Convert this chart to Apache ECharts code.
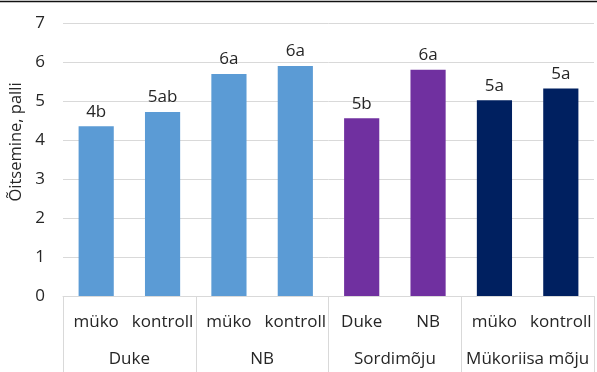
<!DOCTYPE html>
<html>
<head>
<meta charset="utf-8">
<script src="https://cdn.jsdelivr.net/npm/echarts@6/dist/echarts.min.js"></script>
<style>
  html, body { margin: 0; padding: 0; background: #ffffff; }
  #chart { width: 597px; height: 372px; }
</style>
</head>
<body>
<div id="chart"></div>
<script>
// Flowering scores by treatment
const subCategories = ['müko', 'kontroll', 'müko', 'kontroll', 'Duke', 'NB', 'müko', 'kontroll'];
const groupCategories = ['Duke', 'NB', 'Sordimõju', 'Mükoriisa mõju'];
const values = [4.35, 4.72, 5.69, 5.90, 4.56, 5.80, 5.02, 5.32];
const valueLabels = ['4b', '5ab', '6a', '6a', '5b', '6a', '5a', '5a'];
const groupOfBar = [0, 0, 0, 0, 1, 1, 2, 2];
const yTicks = [0, 1, 2, 3, 4, 5, 6, 7];

const palette = ['#5b9bd5', '#7030a0', '#002060'];
const FONT = 'Open Sans';
const TEXT = '#262626';
const GRID = '#d9d9d9';
const FS = 17;

const chart = echarts.init(document.getElementById('chart'), null, { renderer: 'canvas' });

chart.setOption({
  animation: false,
  backgroundColor: '#ffffff',
  textStyle: { fontFamily: FONT },
  grid: { left: 63, right: 3, top: 23, bottom: 76, containLabel: false },
  graphic: [
    {
      type: 'line',
      shape: { x1: 0, y1: 1.5, x2: 597, y2: 1.5 },
      style: { stroke: '#111111', lineWidth: 1.5 }
    },
    {
      type: 'text',
      x: 16, y: 142,
      rotation: Math.PI / 2,
      style: {
        text: 'Õitsemine, palli',
        fontFamily: FONT, fontSize: 16.5, fill: TEXT,
        align: 'center', verticalAlign: 'middle'
      }
    }
  ],
  xAxis: [
    {
      type: 'category',
      position: 'bottom',
      data: subCategories,
      axisLine: { show: true, lineStyle: { color: GRID, width: 1 } },
      axisTick: { show: false },
      axisLabel: { color: TEXT, fontSize: FS, fontFamily: FONT, margin: 18, interval: 0 }
    },
    {
      type: 'category',
      position: 'bottom',
      data: groupCategories,
      axisLine: { show: false },
      axisTick: { show: true, length: 80, lineStyle: { color: GRID, width: 1 } },
      axisLabel: { color: TEXT, fontSize: FS, fontFamily: FONT, margin: 55, interval: 0 },
      splitLine: { show: false }
    }
  ],
  yAxis: {
    type: 'value',
    min: yTicks[0],
    max: yTicks[yTicks.length - 1],
    interval: 1,
    axisLine: { show: false },
    axisTick: { show: false },
    axisLabel: { color: TEXT, fontSize: FS, fontFamily: FONT, margin: 18 },
    splitLine: { show: true, lineStyle: { color: GRID, width: 1 } }
  },
  series: [
    {
      type: 'bar',
      xAxisIndex: 0,
      barWidth: '53%',
      data: values.map((v, i) => ({
        value: v,
        itemStyle: { color: palette[groupOfBar[i]] },
        label: { formatter: valueLabels[i] }
      })),
      label: {
        show: true,
        position: 'top',
        distance: 6,
        color: TEXT,
        fontSize: FS,
        fontFamily: FONT
      }
    }
  ]
});
</script>
</body>
</html>
